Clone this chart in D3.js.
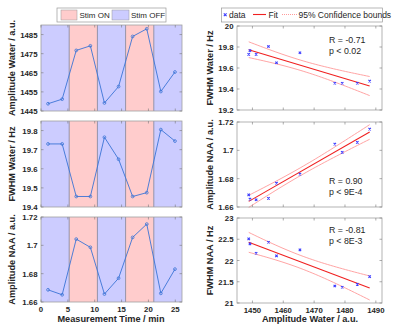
<!DOCTYPE html>
<html><head><meta charset="utf-8">
<script src="https://cdn.jsdelivr.net/npm/d3@7"></script>
<style>body{margin:0;background:#fff}svg{display:block}</style>
</head><body>
<svg id="c" width="400" height="331"></svg>
<script>
// ---- data ----
const times = [1.31, 3.94, 6.56, 9.19, 11.81, 14.44, 17.06, 19.69, 22.31, 24.94];
const ampWater = [1448.8, 1451.2, 1476.7, 1479.1, 1449.2, 1457.8, 1484.0, 1488.0, 1455.2, 1465.4];
const fwhmWater = [19.73, 19.73, 19.455, 19.455, 19.765, 19.65, 19.455, 19.475, 19.805, 19.745];
const ampNAA = [1.6686, 1.6651, 1.7044, 1.6986, 1.6656, 1.6768, 1.7056, 1.7150, 1.6661, 1.6832];
const fwhmNAA = [22.51, 22.17, 21.40, 21.37, 22.39, 22.11, 21.44, 21.62, 22.43, 22.25];
const stimBlocks = [
  {start: 0, end: 5.25, on: false}, {start: 5.25, end: 10.5, on: true},
  {start: 10.5, end: 15.75, on: false}, {start: 15.75, end: 21, on: true},
  {start: 21, end: 26.25, on: false}];
const timeTicks = [0, 5, 10, 15, 20, 25];
const ampWaterTicks = [1445, 1455, 1465, 1475, 1485];
const fwhmWaterTicksL = [19.4, 19.5, 19.6, 19.7, 19.8];
const ampNAATicks = [1.66, 1.68, 1.7, 1.72];
const fwhmWaterTicksR = [19.2, 19.4, 19.6, 19.8, 20];
const fwhmNAATicks = [21, 21.5, 22, 22.5, 23];
const ampWaterTicksR = [1450, 1460, 1470, 1480, 1490];
const stats = [["R = -0.71", "p < 0.02"], ["R = 0.90", "p < 9E-4"], ["R = -0.81", "p < 8E-3"]];

const svg = d3.select("#c");
const FONT = "Liberation Sans, Arial, sans-serif";
const TXT = "#262626";
const lineBlue = "#3b74d6";
const TICKFS = 7.8;

function axesBox(g, x, y, yTicks, xTicks, showX) {
  const [x0, x1] = x.range(); const [y1, y0] = y.range();
  g.append("rect").attr("x", x0).attr("y", y0).attr("width", x1 - x0).attr("height", y1 - y0)
    .attr("fill", "none").attr("stroke", "#a0a0a0").attr("stroke-width", 0.8);
  yTicks.forEach(t => {
    const yy = y(t);
    g.append("line").attr("x1", x0).attr("x2", x0 + 2.5).attr("y1", yy).attr("y2", yy).attr("stroke", "#777").attr("stroke-width", 0.6);
    g.append("line").attr("x1", x1).attr("x2", x1 - 2.5).attr("y1", yy).attr("y2", yy).attr("stroke", "#777").attr("stroke-width", 0.6);
    g.append("text").attr("x", x0 - 3.5).attr("y", yy + 3).attr("text-anchor", "end")
      .attr("font-family", FONT).attr("font-size", TICKFS).attr("font-weight", "bold").attr("fill", TXT)
      .text(t);
  });
  xTicks.forEach(t => {
    const xx = x(t);
    g.append("line").attr("x1", xx).attr("x2", xx).attr("y1", y1).attr("y2", y1 - 2.5).attr("stroke", "#777").attr("stroke-width", 0.6);
    g.append("line").attr("x1", xx).attr("x2", xx).attr("y1", y0).attr("y2", y0 + 2.5).attr("stroke", "#777").attr("stroke-width", 0.6);
    if (showX) g.append("text").attr("x", xx).attr("y", y1 + 9.5).attr("text-anchor", "middle")
      .attr("font-family", FONT).attr("font-size", TICKFS).attr("font-weight", "bold").attr("fill", TXT).text(t);
  });
}
function ylabel(g, text, cx, cy) {
  g.append("text").attr("transform", `translate(${cx},${cy}) rotate(-90)`).attr("text-anchor", "middle")
    .attr("font-family", FONT).attr("font-size", 9.2).attr("font-weight", "bold").attr("fill", TXT).text(text);
}

// ---- left column ----
const xT = d3.scaleLinear().domain([0, 26.25]).range([41, 182]);
const leftPanels = [
  {vals: ampWater, dom: [1445, 1490], rng: [111, 25], ticks: ampWaterTicks, label: "Amplitude Water / a.u."},
  {vals: fwhmWater, dom: [19.4, 19.85], rng: [207, 121], ticks: fwhmWaterTicksL, label: "FWHM Water / Hz"},
  {vals: ampNAA, dom: [1.66, 1.72], rng: [302, 217], ticks: ampNAATicks, label: "Amplitude NAA / a.u."}
];
leftPanels.forEach((p, i) => {
  const g = svg.append("g");
  const y = d3.scaleLinear().domain(p.dom).range(p.rng);
  stimBlocks.forEach(b => {
    g.append("rect").attr("x", xT(b.start)).attr("y", p.rng[1]).attr("width", xT(b.end) - xT(b.start))
      .attr("height", p.rng[0] - p.rng[1]).attr("fill", b.on ? "#ffcccc" : "#ccccff");
  });
  stimBlocks.slice(1).forEach(b => {
    g.append("line").attr("x1", xT(b.start)).attr("x2", xT(b.start)).attr("y1", p.rng[1]).attr("y2", p.rng[0])
      .attr("stroke", "#8a8aa0").attr("stroke-width", 0.9);
  });
  const line = d3.line().x((d, j) => xT(times[j])).y(d => y(d));
  g.append("path").attr("d", line(p.vals)).attr("fill", "none").attr("stroke", lineBlue).attr("stroke-width", 0.9);
  g.selectAll("circle").data(p.vals).join("circle").attr("cx", (d, j) => xT(times[j])).attr("cy", d => y(d))
    .attr("r", 1.4).attr("fill", "none").attr("stroke", lineBlue).attr("stroke-width", 0.8);
  axesBox(g, xT, y, p.ticks, timeTicks, i === 2);
  ylabel(g, p.label, 15, (p.rng[0] + p.rng[1]) / 2);
});
svg.append("text").attr("x", 111).attr("y", 322).attr("text-anchor", "middle").attr("font-family", FONT)
  .attr("font-size", 9.2).attr("font-weight", "bold").attr("fill", TXT).text("Measurement Time / min");

// left legend
const lg = svg.append("g");
lg.append("rect").attr("x", 57).attr("y", 8).attr("width", 109).attr("height", 14).attr("fill", "#fff").attr("stroke", "#999").attr("stroke-width", 0.7);
lg.append("rect").attr("x", 61).attr("y", 10).attr("width", 16).attr("height", 10).attr("fill", "#ffcccc").attr("stroke", "#999").attr("stroke-width", 0.5);
lg.append("text").attr("x", 79.5).attr("y", 18.3).attr("font-family", FONT).attr("font-size", 8).attr("fill", TXT).text("Stim ON");
lg.append("rect").attr("x", 112).attr("y", 10).attr("width", 17).attr("height", 10).attr("fill", "#ccccff").attr("stroke", "#999").attr("stroke-width", 0.5);
lg.append("text").attr("x", 131).attr("y", 18.3).attr("font-family", FONT).attr("font-size", 8).attr("fill", TXT).text("Stim OFF");

// ---- right column ----
const xA = d3.scaleLinear().domain([1445, 1492]).range([237, 382]);
const rightPanels = [
  {vals: fwhmWater, dom: [19.2, 20], rng: [110, 26], ticks: fwhmWaterTicksR, label: "FWHM Water / Hz", sy: 40},
  {vals: ampNAA, dom: [1.66, 1.72], rng: [207, 122], ticks: ampNAATicks, label: "Amplitude NAA / a.u.", sy: 181},
  {vals: fwhmNAA, dom: [21, 23], rng: [303, 218], ticks: fwhmNAATicks, label: "FWHM NAA / Hz", sy: 230}
];
const tCrit = 2.306; // t(0.975, n-2=8)
rightPanels.forEach((p, i) => {
  const g = svg.append("g");
  const y = d3.scaleLinear().domain(p.dom).range(p.rng);
  const n = ampWater.length;
  const mx = d3.mean(ampWater), my = d3.mean(p.vals);
  const sxx = d3.sum(ampWater, v => (v - mx) ** 2);
  const sxy = d3.sum(ampWater.map((v, j) => (v - mx) * (p.vals[j] - my)));
  const b = sxy / sxx, a = my - b * mx;
  const s = Math.sqrt(d3.sum(ampWater.map((v, j) => (p.vals[j] - a - b * v) ** 2)) / (n - 2));
  const [xmin, xmax] = d3.extent(ampWater);
  const xs = d3.range(0, 41).map(k => xmin + (xmax - xmin) * k / 40);
  const half = xv => tCrit * s * Math.sqrt(1 / n + (xv - mx) ** 2 / sxx);
  const ln = d3.line().x(d => xA(d[0])).y(d => y(d[1]));
  g.append("path").attr("d", ln(xs.map(xv => [xv, a + b * xv + half(xv)]))).attr("fill", "none").attr("stroke", "#ff9a9a").attr("stroke-width", 0.9);
  g.append("path").attr("d", ln(xs.map(xv => [xv, a + b * xv - half(xv)]))).attr("fill", "none").attr("stroke", "#ff9a9a").attr("stroke-width", 0.9);
  g.append("path").attr("d", ln([[xmin, a + b * xmin], [xmax, a + b * xmax]])).attr("fill", "none").attr("stroke", "#f02020").attr("stroke-width", 1.1);
  ampWater.forEach((xv, j) => {
    const cx = xA(xv), cy = y(p.vals[j]);
    g.append("path").attr("d", `M${cx - 1.2},${cy - 1.2}L${cx + 1.2},${cy + 1.2}M${cx - 1.2},${cy + 1.2}L${cx + 1.2},${cy - 1.2}`)
      .attr("stroke", "#3a3aff").attr("stroke-width", 1.1);
  });
  axesBox(g, xA, y, p.ticks, ampWaterTicksR, i === 2);
  ylabel(g, p.label, 212.5, (p.rng[0] + p.rng[1]) / 2);
  g.append("text").attr("x", 329).attr("y", p.sy + 3).attr("font-family", FONT).attr("font-size", 8.8).attr("fill", TXT).text(stats[i][0]);
  g.append("text").attr("x", 329).attr("y", p.sy + 13.5).attr("font-family", FONT).attr("font-size", 8.8).attr("fill", TXT).text(stats[i][1]);
});
svg.append("text").attr("x", 310).attr("y", 322).attr("text-anchor", "middle").attr("font-family", FONT)
  .attr("font-size", 9.2).attr("font-weight", "bold").attr("fill", TXT).text("Amplitude Water / a.u.");

// right legend
const rg = svg.append("g");
rg.append("rect").attr("x", 221.5).attr("y", 8).attr("width", 161).attr("height", 14).attr("fill", "#fff").attr("stroke", "#999").attr("stroke-width", 0.7);
rg.append("path").attr("d", "M223.8,13.4L226.6,16.2M223.8,16.2L226.6,13.4").attr("stroke", "#3a3aff").attr("stroke-width", 1.1);
rg.append("text").attr("x", 229).attr("y", 18.3).attr("font-family", FONT).attr("font-size", 8.5).attr("fill", TXT).text("data");
rg.append("line").attr("x1", 253).attr("x2", 266).attr("y1", 14.5).attr("y2", 14.5).attr("stroke", "#f02020").attr("stroke-width", 1.1);
rg.append("text").attr("x", 268.5).attr("y", 18.3).attr("font-family", FONT).attr("font-size", 8.5).attr("fill", TXT).text("Fit");
rg.append("line").attr("x1", 282).attr("x2", 297).attr("y1", 14.5).attr("y2", 14.5).attr("stroke", "#ff9a9a").attr("stroke-width", 1).attr("stroke-dasharray", "1,1");
rg.append("text").attr("x", 298.5).attr("y", 18.3).attr("font-family", FONT).attr("font-size", 8.5).attr("fill", TXT).text("95% Confidence bounds");
</script>
</body></html>
